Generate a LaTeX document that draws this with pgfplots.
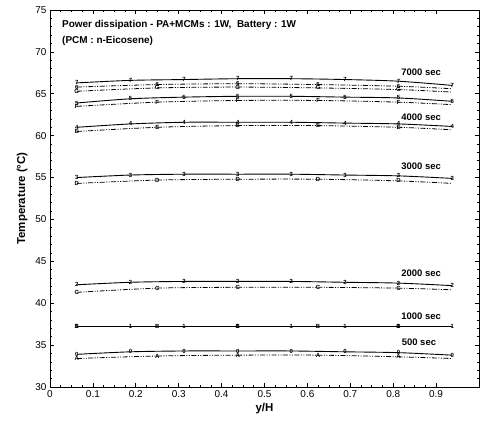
\documentclass[border=0pt]{standalone}
\usepackage{pgfplots}
\pgfplotsset{compat=1.18}
\usepackage{fontspec}
\setmainfont{Liberation Sans}
\newcommand{\mk}[1]{{\fontsize{6}{6}\selectfont\bfseries #1}}
\begin{document}
\begin{tikzpicture}[x=1bp,y=1bp]
\pgfplotsset{
  sol/.style={black, line width=0.9pt, smooth, mark=text, text mark={\mk{#1}}},
  dsh/.style={black, line width=0.8pt, smooth,
    dash pattern=on 5pt off 1.5pt on 1pt off 1.5pt on 1pt off 1.5pt,
    mark=text, text mark={\mk{#1}}, mark indices={1,2,3,4,5},
    mark options={solid}},
}
\begin{axis}[
  scale only axis, width=429bp, height=377bp,
  xmin=0, xmax=1, ymin=30, ymax=75,
  xtick={0,0.1,...,0.91}, ytick={30,35,...,75},
  xticklabels={0,0.1,0.2,0.3,0.4,0.5,0.6,0.7,0.8,0.9},
  minor x tick num=3, minor y tick num=4,
  tick style={black, line width=0.7pt},
  major tick length=4.5bp, minor tick length=2.5bp,
  tick align=inside,
  axis line style={line width=1pt},
  /pgf/number format/assume math mode=true,
  ticklabel style={font=\fontsize{10}{12}\selectfont},
  xlabel={\textbf{y/H}}, ylabel={\textbf{Temperature (°C)}},
  label style={font=\fontsize{11.5}{13}\selectfont},
  xlabel style={yshift=1bp},
  ylabel style={yshift=1bp},
  clip=false,
]
% 7000 sec group
\addplot[sol=7] coordinates {(0.0625,66.3)(0.1875,66.6)(0.3125,66.7)(0.4375,66.8)(0.5625,66.8)(0.6875,66.7)(0.8125,66.5)(0.9375,66.0)};
\addplot[dsh=6] coordinates {(0.0625,65.8)(0.25,66.1)(0.4375,66.2)(0.625,66.1)(0.8125,65.9)(0.9375,65.6)};
\addplot[dsh=G] coordinates {(0.0625,65.3)(0.25,65.7)(0.4375,65.8)(0.625,65.7)(0.8125,65.5)(0.9375,65.2)};
% 5000 sec group
\addplot[sol=5] coordinates {(0.0625,63.9)(0.1875,64.4)(0.3125,64.6)(0.4375,64.7)(0.5625,64.7)(0.6875,64.6)(0.8125,64.5)(0.9375,64.1)};
\addplot[dsh=F] coordinates {(0.0625,63.5)(0.25,64.0)(0.4375,64.2)(0.625,64.2)(0.8125,64.0)(0.9375,63.7)};
% 4000 sec
\addplot[sol=4] coordinates {(0.0625,61.0)(0.1875,61.4)(0.3125,61.6)(0.4375,61.6)(0.5625,61.6)(0.6875,61.5)(0.8125,61.4)(0.9375,61.1)};
\addplot[dsh=E] coordinates {(0.0625,60.5)(0.25,61.0)(0.4375,61.2)(0.625,61.2)(0.8125,61.0)(0.9375,60.7)};
% 3000 sec
\addplot[sol=3] coordinates {(0.0625,55.0)(0.1875,55.3)(0.3125,55.4)(0.4375,55.4)(0.5625,55.4)(0.6875,55.3)(0.8125,55.2)(0.9375,54.9)};
\addplot[dsh=D] coordinates {(0.0625,54.3)(0.25,54.7)(0.4375,54.8)(0.625,54.8)(0.8125,54.6)(0.9375,54.3)};
% 2000 sec
\addplot[sol=2] coordinates {(0.0625,42.2)(0.1875,42.5)(0.3125,42.6)(0.4375,42.6)(0.5625,42.6)(0.6875,42.5)(0.8125,42.4)(0.9375,42.1)};
\addplot[dsh=C] coordinates {(0.0625,41.3)(0.25,41.8)(0.4375,41.9)(0.625,41.9)(0.8125,41.8)(0.9375,41.6)};
% 1000 sec
\addplot[sol=1] coordinates {(0.0625,37.2)(0.1875,37.2)(0.3125,37.2)(0.4375,37.2)(0.5625,37.2)(0.6875,37.2)(0.8125,37.2)(0.9375,37.2)};
\addplot[dsh=B] coordinates {(0.0625,37.2)(0.25,37.2)(0.4375,37.2)(0.625,37.2)(0.8125,37.2)(0.9375,37.2)};
% 500 sec
\addplot[sol=0] coordinates {(0.0625,33.9)(0.1875,34.2)(0.3125,34.3)(0.4375,34.3)(0.5625,34.3)(0.6875,34.2)(0.8125,34.1)(0.9375,33.8)};
\addplot[dsh=A] coordinates {(0.0625,33.4)(0.25,33.7)(0.4375,33.8)(0.625,33.8)(0.8125,33.6)(0.9375,33.4)};

\begin{scope}[every node/.style={font=\fontsize{9.5}{11}\selectfont\bfseries}]
\node at (axis cs:0.865,67.6) {7000 sec};
\node at (axis cs:0.865,62.2) {4000 sec};
\node at (axis cs:0.865,56.4) {3000 sec};
\node at (axis cs:0.865,43.6) {2000 sec};
\node at (axis cs:0.865,38.5) {1000 sec};
\node at (axis cs:0.86,35.3) {500 sec};
\end{scope}
\node[anchor=north west, align=left, font=\fontsize{10}{16.5}\selectfont\bfseries, inner sep=0pt]
  at (axis cs:0.028,73.8) {Power dissipation - PA+MCMs : 1W,\ \ Battery : 1W\\(PCM : n-Eicosene)};
\end{axis}
\pgfresetboundingbox
\path[use as bounding box] (current axis.south west) ++(-50bp,-36bp) rectangle ++(480bp,423bp);
\end{tikzpicture}
\end{document}
